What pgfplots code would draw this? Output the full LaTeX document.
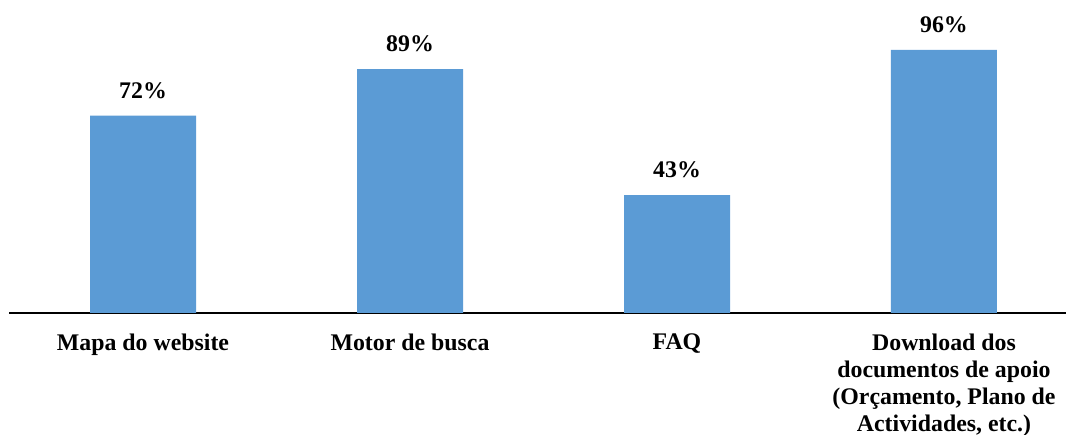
\documentclass[border=0pt]{standalone}
\usepackage{fontspec}
\setmainfont{Liberation Serif}
\usepackage{pgfplots}
\pgfplotsset{compat=1.18}
\definecolor{barblue}{HTML}{5B9BD5}
\begin{document}
\begin{tikzpicture}
\useasboundingbox (0,0) rectangle (640.2pt,261pt);
\begin{axis}[
  at={(5.4pt,73.2pt)}, anchor=south west,
  scale only axis,
  width=634.2pt, height=164.4pt,
  xmin=-0.502, xmax=3.457,
  ymin=0, ymax=100,
  ybar, bar width=63.6pt,
  hide y axis,
  axis x line=bottom,
  x axis line style={-, line width=1.2pt, black},
  xtick=data,
  major tick length=0pt,
  xticklabels={{Mapa do website},{Motor de busca},{FAQ},{Download dos\\documentos de apoio\\(Orçamento, Plano de\\Actividades, etc.)}},
  xticklabel style={align=center, anchor=north, inner sep=0pt, yshift=-12.2pt,
    font=\fontsize{14.3}{16.2}\selectfont\bfseries},
  nodes near coords={\pgfmathprintnumber[assume math mode=true]{\pgfplotspointmeta}\%},
  nodes near coords style={anchor=south, inner sep=0pt, yshift=10pt,
    font=\fontsize{14.3}{16.2}\selectfont\bfseries, text=black},
  clip=false,
]
\addplot[fill=barblue, draw=none] coordinates {(0,72) (1,89) (2,43) (3,96)};
\end{axis}
\end{tikzpicture}
\end{document}
